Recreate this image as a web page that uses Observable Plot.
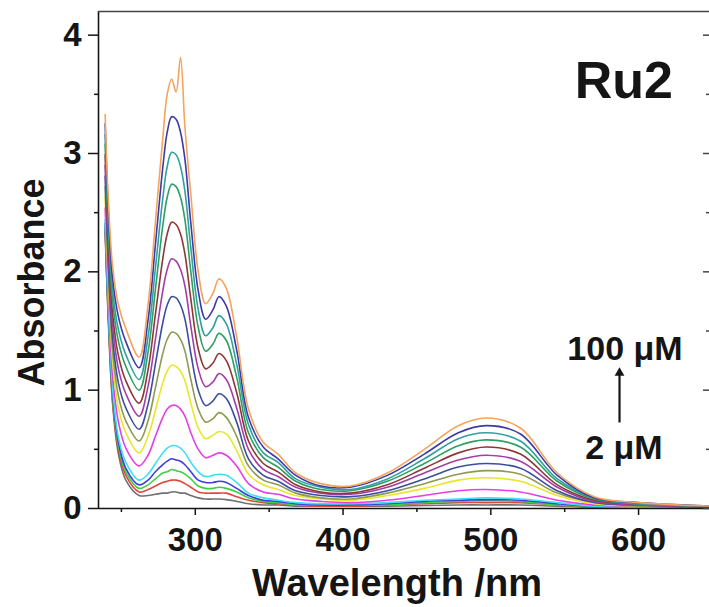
<!DOCTYPE html>
<html><head><meta charset="utf-8">
<script src="https://cdn.jsdelivr.net/npm/d3@7"></script>
<script src="https://cdn.jsdelivr.net/npm/@observablehq/plot@0.6"></script>
<style>
html,body{margin:0;padding:0;background:#fff;overflow:hidden}
#chart svg{display:block}
</style></head><body><div id="chart"></div>
<script>
// ---- data ----
const wavelength = [239,241,244,248,253,262,268,273,278,281,284,287,290,293,297,302,307,312,316,321,328,336,346,356,368,385,405,430,455,478,497,520,545,570,600,650];

// series from lowest to highest concentration (2 μM ... 100 μM)
const sGray    = [2.33,1.63,0.89,0.46,0.24,0.11,0.11,0.12,0.13,0.13,0.14,0.14,0.13,0.13,0.11,0.09,0.08,0.08,0.08,0.075,0.06,0.04,0.03,0.03,0.02,0.02,0.02,0.02,0.025,0.03,0.03,0.03,0.02,0.01,0.005,0.003];
const sRed     = [2.36,1.66,0.92,0.50,0.28,0.14,0.16,0.19,0.22,0.23,0.24,0.24,0.23,0.21,0.18,0.14,0.13,0.13,0.13,0.13,0.10,0.07,0.05,0.04,0.03,0.02,0.02,0.03,0.04,0.05,0.05,0.05,0.03,0.01,0.01,0.005];
const sGreen2  = [2.39,1.69,0.95,0.53,0.31,0.17,0.20,0.25,0.30,0.31,0.33,0.32,0.31,0.29,0.25,0.19,0.17,0.17,0.18,0.17,0.14,0.09,0.06,0.05,0.03,0.03,0.03,0.03,0.05,0.06,0.065,0.06,0.03,0.02,0.01,0.005];
const sBlue    = [2.41,1.71,0.98,0.56,0.34,0.20,0.24,0.31,0.37,0.40,0.42,0.41,0.40,0.37,0.31,0.24,0.22,0.22,0.23,0.22,0.17,0.11,0.07,0.06,0.04,0.03,0.03,0.04,0.06,0.07,0.075,0.07,0.04,0.02,0.01,0.01];
const sCyan    = [2.44,1.75,1.02,0.60,0.39,0.24,0.29,0.38,0.47,0.51,0.53,0.53,0.51,0.47,0.39,0.31,0.27,0.28,0.29,0.28,0.22,0.13,0.09,0.07,0.05,0.04,0.04,0.05,0.07,0.08,0.09,0.08,0.05,0.02,0.01,0.01];
const sMagenta = [2.54,1.85,1.13,0.73,0.51,0.36,0.45,0.61,0.77,0.84,0.87,0.87,0.84,0.78,0.64,0.50,0.43,0.45,0.47,0.45,0.36,0.21,0.14,0.12,0.08,0.06,0.05,0.07,0.11,0.15,0.16,0.14,0.07,0.03,0.02,0.01];
const sYellow  = [2.64,1.95,1.25,0.85,0.64,0.47,0.61,0.83,1.06,1.16,1.21,1.20,1.16,1.08,0.89,0.68,0.59,0.62,0.65,0.63,0.49,0.29,0.20,0.16,0.11,0.08,0.07,0.11,0.17,0.24,0.26,0.23,0.11,0.04,0.02,0.01];
const sOlive   = [2.72,2.03,1.34,0.95,0.74,0.57,0.74,1.02,1.31,1.43,1.49,1.48,1.43,1.33,1.09,0.84,0.73,0.76,0.81,0.77,0.61,0.36,0.24,0.20,0.13,0.09,0.08,0.13,0.21,0.29,0.32,0.29,0.13,0.05,0.02,0.01];
const sNavy2   = [2.81,2.12,1.44,1.06,0.85,0.67,0.88,1.22,1.57,1.72,1.79,1.78,1.72,1.60,1.31,1.00,0.87,0.91,0.97,0.93,0.73,0.42,0.28,0.23,0.15,0.11,0.10,0.15,0.25,0.35,0.38,0.34,0.15,0.05,0.03,0.01];
const sPurple  = [2.90,2.21,1.55,1.18,0.97,0.78,1.03,1.43,1.84,2.02,2.11,2.09,2.02,1.88,1.54,1.18,1.03,1.07,1.14,1.09,0.85,0.50,0.33,0.27,0.18,0.13,0.12,0.18,0.30,0.41,0.45,0.40,0.18,0.06,0.03,0.01];
const sBrown   = [2.99,2.30,1.65,1.29,1.08,0.89,1.17,1.64,2.11,2.32,2.42,2.40,2.32,2.15,1.77,1.35,1.18,1.23,1.31,1.25,0.98,0.57,0.38,0.31,0.20,0.14,0.13,0.20,0.34,0.47,0.52,0.46,0.20,0.07,0.04,0.01];
const sGreen   = [3.08,2.40,1.76,1.41,1.20,1.00,1.32,1.85,2.39,2.63,2.74,2.72,2.63,2.44,2.00,1.53,1.33,1.39,1.48,1.42,1.11,0.64,0.43,0.35,0.23,0.16,0.15,0.23,0.38,0.53,0.58,0.52,0.23,0.08,0.04,0.02];
const sTeal    = [3.16,2.48,1.85,1.51,1.30,1.09,1.45,2.03,2.62,2.89,3.01,2.99,2.89,2.68,2.20,1.68,1.46,1.53,1.63,1.56,1.22,0.71,0.47,0.39,0.25,0.18,0.16,0.25,0.42,0.59,0.64,0.57,0.25,0.09,0.04,0.02];
const sNavy    = [3.25,2.57,1.95,1.62,1.41,1.19,1.59,2.23,2.88,3.18,3.31,3.29,3.18,2.95,2.41,1.84,1.60,1.68,1.79,1.71,1.34,0.77,0.52,0.42,0.28,0.19,0.18,0.28,0.46,0.64,0.70,0.63,0.28,0.09,0.05,0.02];
const sOrange  = [3.33,2.65,2.05,1.72,1.52,1.28,1.72,2.42,3.13,3.50,3.63,3.52,3.81,3.22,2.65,2.00,1.73,1.82,1.94,1.86,1.45,0.84,0.56,0.46,0.30,0.21,0.19,0.30,0.50,0.70,0.765,0.68,0.30,0.10,0.05,0.02];

const seriesNames = ["S01","S02","S03","S04","S05","S06","S07","S08","S09","S10","S11","S12","S13","S14","S15"];
const seriesValues = [sGray,sRed,sGreen2,sBlue,sCyan,sMagenta,sYellow,sOlive,sNavy2,sPurple,sBrown,sGreen,sTeal,sNavy,sOrange];
const palette = ["#707070","#e2473e","#3fcf45","#3d3de0","#3fdff0","#e340e3","#e9e62c","#8e9a52","#3a4ea0","#a23fa6","#8c3636","#2f9e62","#31a0a0","#3c3aa8","#f5a45e"];

const xDomain = [234.5, 648];
const yDomain = [0, 4.2];
const xMajor = [300, 400, 500, 600];
const xMinor = [250, 350, 450, 550];
const yMajor = [0, 1, 2, 3, 4];
const yMinor = [0.5, 1.5, 2.5, 3.5];
const xTitle = "Wavelength /nm";
const yTitle = "Absorbance";
const title = [{label: "Ru2", x: 590, y: 3.465}];
const concLabels = [{label: "100 μM", x: 590.8, y: 1.259}, {label: "2 μM", x: 590.1, y: 0.4225}];
const concArrow = [{x1: 587.1, y1: 0.727, x2: 587.1, y2: 1.15}];
const concArrowHead = [{x: 587.1, y: 1.146}];

// ---- build table ----
const rows = [];
seriesValues.forEach((vals, i) => vals.forEach((a, j) => rows.push({w: wavelength[j], a, s: seriesNames[i]})));

const FONT = "'Liberation Sans', Arial, Helvetica, sans-serif";
const INK = "#151515";
const blank = () => "";
const intFmt = (d) => String(d);

const chart = Plot.plot({
  width: 709, height: 607,
  marginLeft: 98, marginRight: 0, marginTop: 11, marginBottom: 99,
  style: {fontFamily: FONT, background: "#fff", color: INK},
  x: {domain: xDomain},
  y: {domain: yDomain},
  color: {domain: seriesNames, range: palette},
  marks: [
    Plot.line(rows, {x: "w", y: "a", z: "s", stroke: "s", strokeWidth: 1.6, curve: "catmull-rom", clip: true}),
    // frame: left, bottom, top
    Plot.ruleX([xDomain[0]], {stroke: INK, strokeWidth: 1.6}),
    Plot.ruleY([yDomain[0]], {stroke: INK, strokeWidth: 1.6}),
    Plot.ruleY([yDomain[1]], {stroke: "#444", strokeWidth: 1.4}),
    // axes
    Plot.axisX(xMajor, {tickSize: 7, tickPadding: 12, fontSize: 33, fontWeight: "bold", label: null, stroke: INK, strokeWidth: 1.5}),
    Plot.axisX(xMinor, {tickSize: 4, tickFormat: blank, label: null, stroke: INK, strokeWidth: 1.5}),
    Plot.axisY(yMajor, {tickSize: 10, tickPadding: 7, tickFormat: intFmt, fontSize: 33, fontWeight: "bold", label: null, stroke: INK, strokeWidth: 1.5}),
    Plot.axisY(yMinor, {tickSize: 4, tickFormat: blank, label: null, stroke: INK, strokeWidth: 1.5}),
    Plot.axisY(yMajor, {anchor: "right", tickSize: 7, dx: -7, tickFormat: blank, label: null, stroke: "#444", strokeWidth: 1.5}),
    Plot.axisY(yMinor, {anchor: "right", tickSize: 4, dx: -4, tickFormat: blank, label: null, stroke: "#444", strokeWidth: 1.5}),
    // axis titles
    Plot.text([xTitle], {frameAnchor: "bottom", dx: -7, dy: 87, lineAnchor: "bottom", fontSize: 38, fontWeight: "bold", fill: INK}),
    Plot.text([yTitle], {frameAnchor: "left", rotate: -90, textAnchor: "middle", dx: -55, dy: 22.5, lineAnchor: "bottom", fontSize: 36, fontWeight: "bold", fill: INK}),
    // annotations
    Plot.text(title, {x: "x", y: "y", text: "label", lineAnchor: "bottom", fontSize: 52, fontWeight: "bold", fill: INK}),
    Plot.text(concLabels, {x: "x", y: "y", text: "label", lineAnchor: "bottom", fontSize: 34, fontWeight: "bold", fill: INK}),
    Plot.link(concArrow, {x1: "x1", y1: "y1", x2: "x2", y2: "y2", stroke: INK, strokeWidth: 2.2}),
    Plot.dot(concArrowHead, {x: "x", y: "y", symbol: "triangle", r: 3.6, fill: INK, stroke: null})
  ]
});
document.getElementById("chart").appendChild(chart);
</script>
</body></html>
